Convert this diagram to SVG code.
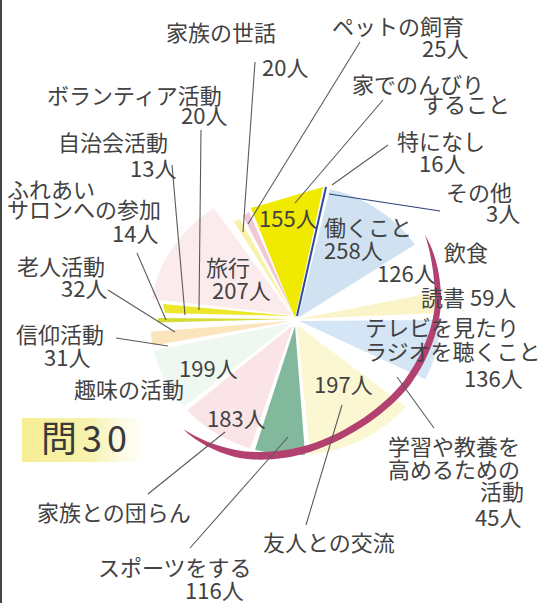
<svg xmlns="http://www.w3.org/2000/svg" width="543" height="603" viewBox="0 0 543 603">
<style>
.t{font-family:"Noto Sans CJK JP","Noto Sans",sans-serif;font-size:22px;fill:#424242}
.big{font-size:36px;letter-spacing:5px;fill:#3a3a3a}
.ld{stroke:#5a5a5a;stroke-width:1.1;fill:none}
</style>
<defs>
<linearGradient id="qbox" x1="0" y1="0" x2="1" y2="0">
<stop offset="0" stop-color="#f6ee94"/>
<stop offset="0.55" stop-color="#f8f2b0"/>
<stop offset="1" stop-color="#fbf8d8" stop-opacity="0"/>
</linearGradient>
</defs>
<rect width="543" height="603" fill="#fff"/>
<rect x="0" y="0" width="2" height="603" fill="#444"/>

<g id="slices">
<g id="s-work"><path d="M298,318 L330,189 A145,135 0 0 1 415,244.5 Z" fill="#d0e2f2"/></g>
<g id="s-read"><path d="M298,319 L436.8,291.9 A145,135 0 0 1 439.8,312.9 Z" fill="#faf4c8"/></g>
<g id="s-tv"><path d="M299,321 L440,320 A145,135 0 0 1 425.3,379.2 Z" fill="#d4e5f5"/></g>
<g id="s-friend"><path d="M297,325 L406.1,406.8 A145,135 0 0 1 310.2,454.3 Z" fill="#fbf7d2"/></g>
<g id="s-sport"><path d="M295,326 L305.1,454.7 A145,135 0 0 1 255,449.8 Z" fill="#82b99d"/></g>
<g id="s-family"><path d="M293,325 L250.2,448.4 A145,135 0 0 1 187.2,410.3 Z" fill="#fbe4e7"/></g>
<g id="s-hobby"><path d="M292,323 L183.9,406.8 A145,135 0 0 1 153.7,350.4 Z" fill="#eff7f1"/></g>
<g id="s-faith"><path d="M291,321 L152.7,345.8 A145,135 0 0 1 150.6,331.8 Z" fill="#fae5bd"/></g>
<g id="s-salon"><path d="M291,319 L158,322.5 L158,318 Z" fill="#d5dc3a"/></g>
<g id="s-volunteer"><path d="M292,316 L165,313 L163,304 Z" fill="#ede62a"/></g>
<g id="s-travel"><path d="M292,315 L151.8,298.9 A145,135 0 0 1 213.9,208.1 Z" fill="#fbebec"/></g>
<g id="s-care"><path d="M293,315 L234,222 L240,219 Z" fill="#f7f2a8"/></g>
<g id="s-pet"><path d="M294,315 L243,216 L249,212 Z" fill="#f2c8d6"/></g>
<g id="s-relax"><path d="M295,318 L251,208 L323,187 Z" fill="#f0ea00"/></g>
<g id="s-other"><path d="M297,316 L326,187" stroke="#2d4b9c" stroke-width="2"/></g>
</g>

<g id="rim">
<path d="M425,235 C434,250 440,270 441,295 C442,320 432,355 410,385 C390,410 355,437 310,452 C285,460 255,462 235,457 C215,452 195,441 183,429 C197,438 215,446 236,450 C255,454 285,452 308,445 C350,432 385,405 404,381 C425,352 436,320 435,295 C434,270 430,250 425,235 Z" fill="#b3416f"/>
</g>

<g id="leaders">
<line class="ld" x1="255" y1="62" x2="243" y2="232"/>
<line class="ld" x1="360" y1="42" x2="248" y2="224"/>
<line class="ld" x1="383" y1="100" x2="295" y2="203"/>
<line class="ld" x1="388" y1="145" x2="332" y2="185"/>
<line class="ld" x1="329" y1="194" x2="440" y2="211" style="stroke:#2d3f7a"/>
<line class="ld" x1="201" y1="130" x2="199" y2="310"/>
<line class="ld" x1="172" y1="165" x2="185" y2="315"/>
<line class="ld" x1="137" y1="253" x2="166" y2="320"/>
<line class="ld" x1="108" y1="290" x2="175" y2="332"/>
<line class="ld" x1="116" y1="338" x2="168" y2="346"/>
<line class="ld" x1="225" y1="432" x2="148" y2="494"/>
<line class="ld" x1="288" y1="437" x2="190" y2="548"/>
<line class="ld" x1="342" y1="405" x2="306" y2="525"/>
<line class="ld" x1="397" y1="377" x2="434" y2="428"/>
</g>

<g id="labels">
<g id="l-care"><text class="t" x="166" y="41">家族の世話</text><text class="t" x="262" y="76">20人</text></g>
<g id="l-volunteer"><text class="t" x="47" y="104">ボランティア活動</text><text class="t" x="181" y="124">20人</text></g>
<g id="l-council"><text class="t" x="58" y="151">自治会活動</text><text class="t" x="130" y="177">13人</text></g>
<g id="l-salon"><text class="t" x="7" y="198">ふれあい</text><text class="t" x="7" y="218">サロンへの参加</text><text class="t" x="112" y="242">14人</text></g>
<g id="l-elder"><text class="t" x="17" y="275">老人活動</text><text class="t" x="61" y="297">32人</text></g>
<g id="l-travel"><text class="t" x="206" y="276">旅行</text><text class="t" x="212" y="299">207人</text></g>
<g id="l-pet"><text class="t" x="332" y="35">ペットの飼育</text><text class="t" x="422" y="57">25人</text></g>
<g id="l-relax"><text class="t" x="352" y="93">家でのんびり</text><text class="t" x="422" y="113">すること</text><text class="t" x="259" y="227">155人</text></g>
<g id="l-none"><text class="t" x="397" y="150">特になし</text><text class="t" x="419" y="172">16人</text></g>
<g id="l-other"><text class="t" x="446" y="201">その他</text><text class="t" x="486" y="222">3人</text></g>
<g id="l-work"><text class="t" x="324" y="236">働くこと</text><text class="t" x="324" y="259">258人</text></g>
<g id="l-eat"><text class="t" x="444" y="261">飲食</text><text class="t" x="377" y="282">126人</text></g>
<g id="l-read"><text class="t" x="421" y="306">読書 59人</text></g>
<g id="l-tv"><text class="t" x="365" y="336">テレビを見たり</text><text class="t" x="365" y="360">ラジオを聴くこと</text><text class="t" x="464" y="387">136人</text></g>
<g id="l-faith"><text class="t" x="16" y="343">信仰活動</text><text class="t" x="44" y="366">31人</text></g>
<g id="l-hobby"><text class="t" x="179" y="377">199人</text><text class="t" x="74" y="398">趣味の活動</text></g>
<g id="l-family"><text class="t" x="207" y="427">183人</text><text class="t" x="37" y="521">家族との団らん</text></g>
<g id="l-friend"><text class="t" x="314" y="393">197人</text><text class="t" x="263" y="551">友人との交流</text></g>
<g id="l-study"><text class="t" x="388" y="455">学習や教養を</text><text class="t" x="388" y="478">高めるための</text><text class="t" x="480" y="500">活動</text><text class="t" x="475" y="526">45人</text></g>
<g id="l-sport"><text class="t" x="98" y="576">スポーツをする</text><text class="t" x="185" y="599">116人</text></g>
</g>

<g id="title">
<rect x="22" y="418" width="128" height="44" fill="url(#qbox)"/>
<text class="t big" x="41" y="452">問30</text>
</g>
</svg>
